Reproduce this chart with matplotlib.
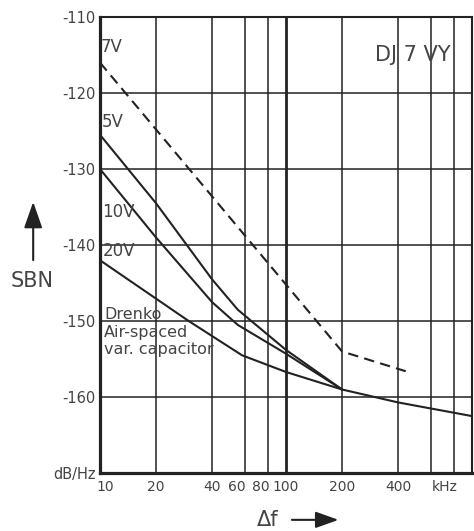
import matplotlib
matplotlib.use("Agg")
import matplotlib.pyplot as plt
from matplotlib.transforms import ScaledTranslation

# SBN curves of the varactor at different bias voltages (kHz, dB/Hz)
f_7v = [10, 200, 440]
sbn_7v = [-116, -154, -156.6]

f_5v = [10, 20, 40, 55, 100, 200]
sbn_5v = [-125.5, -134.5, -144.5, -148.5, -153.8, -159]

f_10v = [10, 20, 40, 55, 100, 200]
sbn_10v = [-130, -139, -147.5, -150.5, -154.3, -159]

f_20v = [10, 30, 58, 100, 200, 400, 1000]
sbn_20v = [-142, -150, -154.5, -156.7, -159, -160.7, -162.5]

xticks = [10, 20, 40, 60, 80, 100, 200, 400]
xtick_labels = ["10", "20", "40", "60", "80", "100", "200", "400"]
xgrid_extra = [600, 800]
yticks = [-170, -160, -150, -140, -130, -120, -110]
ytick_labels = ["dB/Hz", "-160", "-150", "-140", "-130", "-120", "-110"]

ink = "#222222"
txt = "#444444"

fig = plt.figure(figsize=(4.74, 5.31), dpi=100)
ax = fig.add_axes([0.211, 0.109, 0.785, 0.859])

ax.set_xscale("log")
ax.set_xlim(10, 1000)
ax.set_ylim(-170, -110)

ax.set_xticks(xticks)
ax.set_xticklabels(xtick_labels)
ax.set_xticks(xgrid_extra, minor=True)
ax.set_xticklabels([], minor=True)
ax.set_yticks(yticks)
ax.set_yticklabels(ytick_labels)
ax.tick_params(axis="both", which="both", length=0, labelsize=10.5, labelcolor=txt)
ax.tick_params(axis="x", pad=5, labelsize=10)
ax.tick_params(axis="y", pad=3)

# the crowded 60 / 80 labels sit a little left of their lines, as in the print
shift = {"60": -6 / 72, "80": -5 / 72, "10": 4 / 72}
for lbl in ax.get_xticklabels():
    s = lbl.get_text()
    if s in shift:
        lbl.set_transform(lbl.get_transform() + ScaledTranslation(shift[s], 0, fig.dpi_scale_trans))

ax.grid(True, which="both", color=ink, linewidth=1.1)
for gl in ax.get_xgridlines():
    if abs(gl.get_xdata()[0] - 100) < 1e-6:
        gl.set_linewidth(2.0)

for side in ["left", "bottom"]:
    ax.spines[side].set_linewidth(2.3)
for side in ["top", "right"]:
    ax.spines[side].set_linewidth(1.5)
for sp in ax.spines.values():
    sp.set_color(ink)

ax.plot(f_7v, sbn_7v, color=ink, lw=1.5, dashes=(5, 3))
ax.plot(f_5v, sbn_5v, color=ink, lw=1.5)
ax.plot(f_10v, sbn_10v, color=ink, lw=1.5)
ax.plot(f_20v, sbn_20v, color=ink, lw=1.5)

lab = dict(color=txt, fontsize=12, ha="left", va="center")
ax.text(10.1, -114.0, "7V", **lab)
ax.text(10.2, -123.8, "5V", **lab)
ax.text(10.3, -135.6, "10V", **lab)
ax.text(10.3, -140.8, "20V", **lab)
ax.text(10.5, -149.2, "Drenko", color=txt, fontsize=11.5, ha="left", va="center")
ax.text(10.5, -151.5, "Air-spaced", color=txt, fontsize=11.5, ha="left", va="center")
ax.text(10.5, -153.7, "var. capacitor", color=txt, fontsize=11.5, ha="left", va="center")
ax.text(770, -115.0, "DJ 7 VY", color=txt, fontsize=15, ha="right", va="center")

fig.text(0.938, 0.082, "kHz", color=txt, fontsize=10, ha="center", va="center")

fig.text(0.068, 0.470, "SBN", color=txt, fontsize=15, ha="center", va="center")
fig.patches.append(matplotlib.patches.FancyArrowPatch(
    (0.07, 0.505), (0.07, 0.625), transform=fig.transFigure,
    arrowstyle="-|>,head_length=0.8,head_width=0.28", mutation_scale=20,
    color=ink, lw=1.5))

fig.text(0.565, 0.021, "\u0394f", color=txt, fontsize=15, ha="center", va="center")
fig.patches.append(matplotlib.patches.FancyArrowPatch(
    (0.61, 0.021), (0.72, 0.021), transform=fig.transFigure,
    arrowstyle="-|>,head_length=0.7,head_width=0.25", mutation_scale=20,
    color=ink, lw=1.5))

fig.savefig("out.png", dpi=100, facecolor="white")
